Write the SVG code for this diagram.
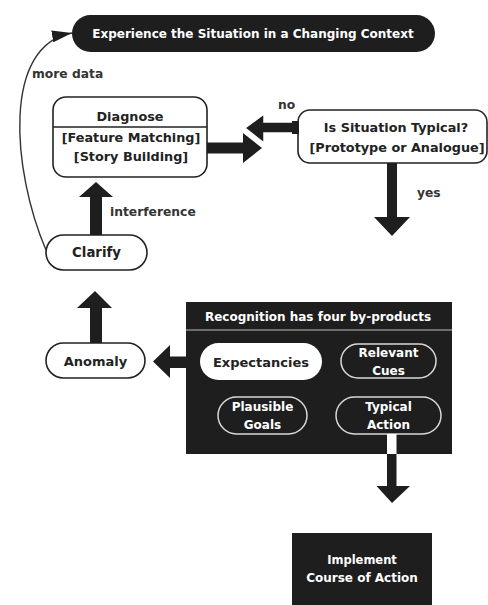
<svg xmlns="http://www.w3.org/2000/svg" width="488" height="605" viewBox="0 0 488 605">
<defs>
<style>
.t{font-family:"DejaVu Sans","Liberation Sans",sans-serif;font-weight:bold;text-anchor:middle;dominant-baseline:central}
.dk{fill:#222}
.wt{fill:#fff}
.node{fill:#fff;stroke:#222;stroke-width:1.6}
.dark{fill:#1e1e1e}
.inpill{fill:#1e1e1e;stroke:#d8d8d8;stroke-width:1.5}
.arr{fill:#1e1e1e}
.lbl{font-family:"DejaVu Sans","Liberation Sans",sans-serif;font-weight:bold;font-size:12.3px;fill:#333}
</style>
<marker id="ah" markerWidth="20" markerHeight="12" refX="20" refY="6" orient="auto" markerUnits="userSpaceOnUse">
<path d="M0,0 L20,6 L0,12 Z" fill="#1e1e1e"/>
</marker>
</defs>
<rect width="488" height="605" fill="#fff"/>

<g id="experience">
<rect x="72" y="15" width="363" height="37" rx="18.5" class="dark"/>
<text x="253" y="33.5" class="t wt" font-size="12">Experience the Situation in a Changing Context</text>
</g>

<text x="32" y="74" class="lbl" dominant-baseline="central">more data</text>
<text x="278" y="105" class="lbl" dominant-baseline="central">no</text>
<text x="417" y="193" class="lbl" dominant-baseline="central">yes</text>
<text x="110" y="212" class="lbl" dominant-baseline="central">interference</text>

<g id="diagnose">
<rect x="53" y="97" width="154" height="80" rx="13" class="node"/>
<line x1="53" y1="127" x2="207" y2="127" stroke="#222" stroke-width="1.4"/>
<text x="130" y="116" class="t dk" font-size="12.8">Diagnose</text>
<text x="131" y="137" class="t dk" font-size="12.8">[Feature Matching]</text>
<text x="131" y="156" class="t dk" font-size="12.8">[Story Building]</text>
</g>

<g id="typical">
<rect x="298" y="110" width="189" height="53" rx="12" class="node"/>
<text x="396" y="127" class="t dk" font-size="12.8">Is Situation Typical?</text>
<text x="397" y="147" class="t dk" font-size="12.8">[Prototype or Analogue]</text>
</g>

<g id="clarify">
<rect x="46" y="235" width="101" height="35" rx="17.5" class="node"/>
<text x="96.5" y="252.5" class="t dk" font-size="13.3">Clarify</text>
</g>

<g id="anomaly">
<rect x="46" y="343" width="99" height="35" rx="17.5" class="node"/>
<text x="95.5" y="361" class="t dk" font-size="13">Anomaly</text>
</g>

<g id="recognition">
<rect x="186" y="302" width="266" height="152" class="dark"/>
<line x1="186" y1="330" x2="452" y2="330" stroke="#bbb" stroke-width="1.2"/>
<text x="318" y="317" class="t wt" font-size="12">Recognition has four by-products</text>
<g id="expectancies">
<rect x="200" y="343" width="122" height="37" rx="18.5" fill="#fff"/>
<text x="261" y="362" class="t dk" font-size="13">Expectancies</text>
</g>
<g id="cues">
<rect x="341" y="344" width="95" height="34" rx="17" class="inpill"/>
<text x="388.5" y="353" class="t wt" font-size="12">Relevant</text>
<text x="388.5" y="371" class="t wt" font-size="12">Cues</text>
</g>
<g id="goals">
<rect x="218" y="397" width="89" height="37" rx="18.5" class="inpill"/>
<text x="262.5" y="407" class="t wt" font-size="12">Plausible</text>
<text x="262.5" y="425" class="t wt" font-size="12">Goals</text>
</g>
<g id="action">
<rect x="336" y="397" width="105" height="37" rx="18.5" class="inpill"/>
<text x="388.5" y="407" class="t wt" font-size="12">Typical</text>
<text x="388.5" y="425" class="t wt" font-size="12">Action</text>
</g>
</g>

<g id="implement">
<rect x="292" y="533" width="140" height="75" class="dark"/>
<text x="362" y="560" class="t wt" font-size="11.5">Implement</text>
<text x="362" y="578" class="t wt" font-size="12">Course of Action</text>
</g>

<g id="connectors">
<path d="M46,250 C12,170 2,45 72,33" fill="none" stroke="#333" stroke-width="1.4" marker-end="url(#ah)"/>
<polygon class="arr" points="207,142.5 243,142.5 243,133 262,148 243,163 243,153.5 207,153.5"/>
<polygon class="arr" points="298,122 264,122 264,114 245,128 264,143 264,133 298,133" stroke="#fff" stroke-width="1.5"/>
<rect x="292" y="121" width="7" height="13" class="arr"/>
<polygon class="arr" points="387,163 397,163 397,217 410,217 392,236 374,217 387,217"/>
<polygon class="arr" points="90,235 102,235 102,197 113,197 96,182 79,197 90,197"/>
<polygon class="arr" points="90,343 102,343 102,308 112,308 95,291 77,308 90,308"/>
<polygon class="arr" points="200,356.5 170,356.5 170,345 153,361.5 170,378 170,368 200,368"/>
<rect x="387" y="434" width="9.5" height="20" fill="#fff"/>
<polygon class="arr" points="387,454 396.5,454 396.5,486 410,486 392,503 376.5,486 387,486"/>
</g>
</svg>
